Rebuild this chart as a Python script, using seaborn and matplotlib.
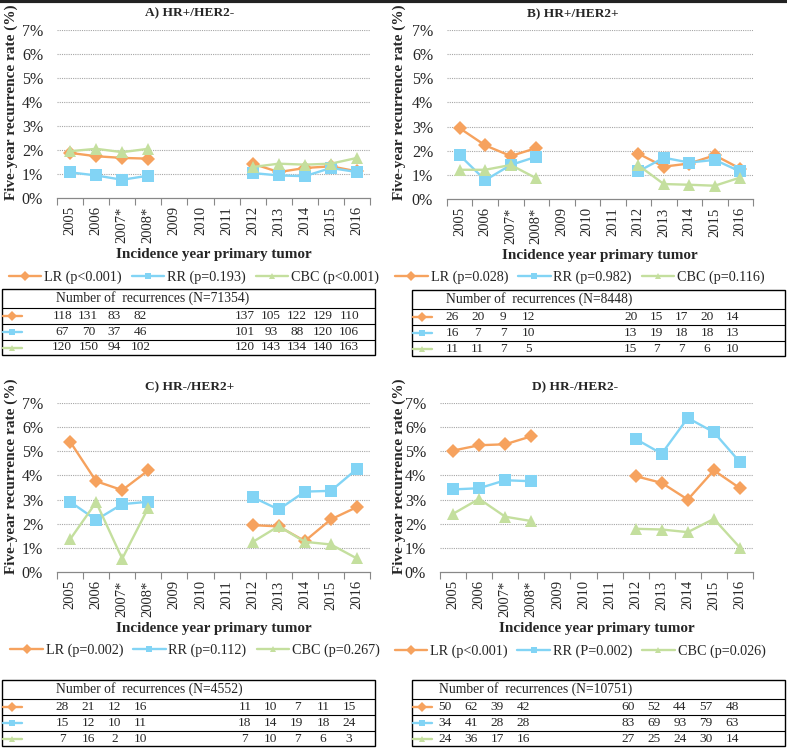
import numpy as np
import pandas as pd
import seaborn as sns
import matplotlib.pyplot as plt
from matplotlib.lines import Line2D
from matplotlib.patches import Rectangle
from matplotlib.transforms import blended_transform_factory

nan = np.nan

years = ['2005', '2006', '2007*', '2008*', '2009', '2010', '2011',
         '2012', '2013', '2014', '2015', '2016']
series = ['LR', 'RR', 'CBC']

# five-year recurrence rates (%)
a_lr = [1.88, 1.74, 1.67, 1.64, nan, nan, nan, 1.43, 1.08, 1.25, 1.32, 1.11]
a_rr = [1.07, 0.94, 0.76, 0.93, nan, nan, nan, 1.04, 0.94, 0.91, 1.25, 1.08]
a_cbc = [1.95, 2.05, 1.91, 2.05, nan, nan, nan, 1.29, 1.43, 1.39, 1.43, 1.67]

b_lr = [2.93, 2.22, 1.78, 2.11, nan, nan, nan, 1.88, 1.34, 1.47, 1.81, 1.26]
b_rr = [1.81, 0.78, 1.41, 1.75, nan, nan, nan, 1.14, 1.71, 1.51, 1.62, 1.14]
b_cbc = [1.21, 1.21, 1.41, 0.86, nan, nan, nan, 1.40, 0.62, 0.59, 0.55, 0.89]

c_lr = [5.40, 3.76, 3.39, 4.21, nan, nan, nan, 1.94, 1.89, 1.28, 2.18, 2.69]
c_rr = [2.91, 2.16, 2.81, 2.91, nan, nan, nan, 3.10, 2.59, 3.33, 3.36, 4.27]
c_cbc = [1.35, 2.89, 0.55, 2.66, nan, nan, nan, 1.24, 1.90, 1.25, 1.14, 0.56]

d_lr = [5.03, 5.25, 5.29, 5.62, nan, nan, nan, 3.97, 3.69, 3.00, 4.21, 3.47]
d_rr = [3.42, 3.47, 3.80, 3.76, nan, nan, nan, 5.51, 4.90, 6.38, 5.79, 4.55]
d_cbc = [2.41, 3.03, 2.29, 2.11, nan, nan, nan, 1.79, 1.76, 1.65, 2.20, 1.01]

# number of recurrences
a_n_lr = [118, 131, 83, 82, None, None, None, 137, 105, 122, 129, 110]
a_n_rr = [67, 70, 37, 46, None, None, None, 101, 93, 88, 120, 106]
a_n_cbc = [120, 150, 94, 102, None, None, None, 120, 143, 134, 140, 163]

b_n_lr = [26, 20, 9, 12, None, None, None, 20, 15, 17, 20, 14]
b_n_rr = [16, 7, 7, 10, None, None, None, 13, 19, 18, 18, 13]
b_n_cbc = [11, 11, 7, 5, None, None, None, 15, 7, 7, 6, 10]

c_n_lr = [28, 21, 12, 16, None, None, None, 11, 10, 7, 11, 15]
c_n_rr = [15, 12, 10, 11, None, None, None, 18, 14, 19, 18, 24]
c_n_cbc = [7, 16, 2, 10, None, None, None, 7, 10, 7, 6, 3]

d_n_lr = [50, 62, 39, 42, None, None, None, 60, 52, 44, 57, 48]
d_n_rr = [34, 41, 28, 28, None, None, None, 83, 69, 93, 79, 63]
d_n_cbc = [24, 36, 17, 16, None, None, None, 27, 25, 24, 30, 14]

titles = ['A) HR+/HER2-', 'B) HR+/HER2+', 'C) HR-/HER2+', 'D) HR-/HER2-']
legend_labels = [
    ['LR (p<0.001)', 'RR (p=0.193)', 'CBC (p<0.001)'],
    ['LR (p=0.028)', 'RR (p=0.982)', 'CBC (p=0.116)'],
    ['LR (p=0.002)', 'RR (p=0.112)', 'CBC (p=0.267)'],
    ['LR (p<0.001)', 'RR (P=0.002)', 'CBC (p=0.026)'],
]
totals = [71354, 8448, 4552, 10751]

rates = [[a_lr, a_rr, a_cbc], [b_lr, b_rr, b_cbc],
         [c_lr, c_rr, c_cbc], [d_lr, d_rr, d_cbc]]
counts = [[a_n_lr, a_n_rr, a_n_cbc], [b_n_lr, b_n_rr, b_n_cbc],
          [c_n_lr, c_n_rr, c_n_cbc], [d_n_lr, d_n_rr, d_n_cbc]]

colors = {'LR': '#F6A25E', 'RR': '#82D4F5', 'CBC': '#C4DF9E'}
markers = {'LR': 'D', 'RR': 's', 'CBC': '^'}
msizes = {'LR': 7, 'RR': 8.5, 'CBC': 8.5}

sns.set_theme(style='white')
plt.rcParams['font.family'] = ['Liberation Serif', 'DejaVu Serif']

W, H = 787, 748
fig = plt.figure(figsize=(W / 100, H / 100), dpi=100)


def rect(l, t, r, b):
    return [l / W, 1 - b / H, (r - l) / W, (b - t) / H]


# pixel layout per panel
layout = [
    dict(ax=(57, 30, 370, 198), tab=(2, 289, 375, 355), title=(190, 13),
         ylab=(11, 102), leg=(194, 277)),
    dict(ax=(447, 30, 753, 199), tab=(412, 290, 785, 356), title=(573, 14),
         ylab=(399, 102), leg=(580, 277)),
    dict(ax=(57, 403, 370, 572), tab=(2, 680, 375, 746), title=(190, 387),
         ylab=(11, 476), leg=(195, 650)),
    dict(ax=(440, 403, 753, 572), tab=(412, 680, 785, 746), title=(575, 387),
         ylab=(399, 476), leg=(580, 651)),
]

xs = np.arange(len(years))

for p in range(4):
    L = layout[p]
    ax = fig.add_axes(rect(*L['ax']))
    for s, vals in zip(series, rates[p]):
        df = pd.DataFrame({'x': xs, 'rate': vals,
                           'seg': [0 if i < 4 else 1 for i in xs]}).dropna()
        sns.lineplot(data=df, x='x', y='rate', units='seg', estimator=None,
                     color=colors[s], marker=markers[s], markersize=msizes[s],
                     markeredgewidth=0, linewidth=1.7, ax=ax)
    ax.set_xlim(-0.5, 11.5)
    ax.set_ylim(0, 7)
    ax.set_yticks(range(8))
    ax.set_yticklabels([f'{v}%' for v in range(8)], fontsize=11.5)
    for v in range(1, 8):
        ax.axhline(v, color='#A6A6A6', linestyle=(0, (1, 1)), linewidth=0.8, zorder=0)
    ax.set_xticks(np.arange(-0.5, 12, 1))
    ax.set_xticklabels([])
    ax.set_xticks(xs, minor=True)
    ax.set_xticklabels(years, minor=True, rotation=90, fontsize=10.5)
    ax.tick_params(axis='x', which='major', length=5, width=0.8, color='#888888',
                   direction='out', bottom=True)
    ax.tick_params(axis='x', which='minor', length=0, pad=6, bottom=True)
    ax.tick_params(axis='y', length=0, pad=10)
    for side in ['left', 'right', 'top']:
        ax.spines[side].set_visible(False)
    ax.spines['bottom'].set_color('#888888')
    ax.spines['bottom'].set_linewidth(0.9)
    ax.set_xlabel('Incidence year primary tumor', fontsize=10.9,
                  fontweight='bold', labelpad=4)
    ax.set_ylabel('')

    fig.text(L['title'][0] / W, 1 - L['title'][1] / H, titles[p],
             fontsize=9.6, fontweight='bold', ha='center', va='center')
    fig.text(L['ylab'][0] / W, 1 - L['ylab'][1] / H,
             'Five-year recurrence rate (%)', fontsize=11, fontweight='bold',
             rotation=90, ha='center', va='center')

    handles = [Line2D([], [], color=colors[s], marker=markers[s],
                      markersize=5, markeredgewidth=0, linewidth=1.7)
               for s in series]
    fig.legend(handles, legend_labels[p], loc='center', ncol=3,
               bbox_to_anchor=(L['leg'][0] / W, 1 - L['leg'][1] / H),
               frameon=False, fontsize=10.2, handlelength=2.3,
               handletextpad=0.2, columnspacing=0.7, borderpad=0)

    # recurrence count table
    tl, tt, tr, tb = L['tab']
    tab = fig.add_axes(rect(tl, tt, tr, tb))
    tab.set_xlim(0, 1)
    tab.set_ylim(0, 1)
    tab.axis('off')
    hh = tb - tt
    bounds = [1, 1 - 19 / hh, 1 - 35 / hh, 1 - 51 / hh, 0]
    tab.add_patch(Rectangle((0, 0), 1, 1, fill=False, edgecolor='black',
                            linewidth=1.0, clip_on=False))
    for yb in bounds[1:4]:
        tab.plot([0, 1], [yb, yb], color='black', linewidth=0.8)
    trans = blended_transform_factory(ax.transData, tab.transAxes)
    tab.text(-0.55, (bounds[0] + bounds[1]) / 2,
             f'Number of  recurrences (N={totals[p]})', transform=trans,
             fontsize=9.8, ha='left', va='center')
    mk_w = 20 / (tr - tl)
    for r, s in enumerate(series):
        yc = (bounds[r + 1] + bounds[r + 2]) / 2
        tab.plot([0.003, mk_w], [yc, yc], color=colors[s], linewidth=1.7)
        tab.plot([mk_w / 2], [yc], color=colors[s], marker=markers[s],
                 markersize=5, markeredgewidth=0)
        for i, n in enumerate(counts[p][r]):
            if n is None:
                continue
            tab.text(i - 0.3, yc, str(n), transform=trans, fontsize=9.6,
                     ha='center', va='center')

# dark rule along the top edge
fig.add_artist(Line2D([0, 1], [0.998, 0.998], color='#222222', linewidth=3,
                      transform=fig.transFigure))

fig.savefig('out.png', dpi=100)
